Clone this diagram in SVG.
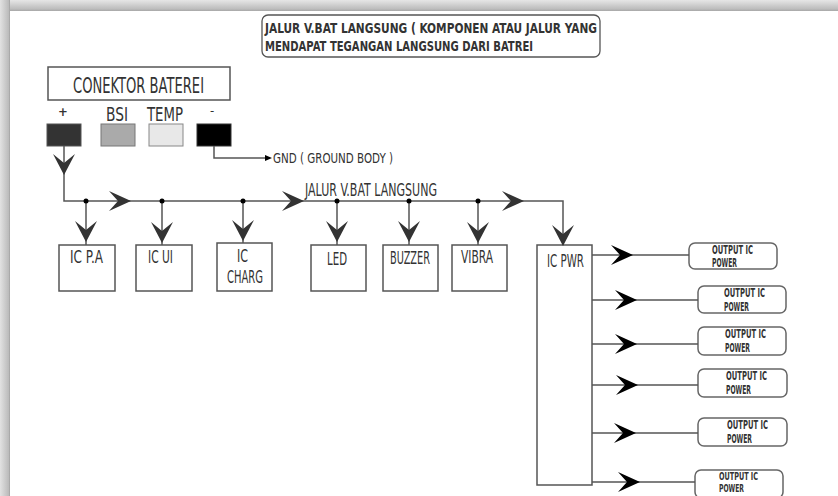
<svg xmlns="http://www.w3.org/2000/svg" width="838" height="496" viewBox="0 0 838 496">
<defs>
<linearGradient id="gTop" x1="0" y1="0" x2="0" y2="1">
<stop offset="0" stop-color="#e6e6e6"/>
<stop offset="0.8" stop-color="#bdbdbd"/>
<stop offset="1" stop-color="#a8a8a8"/>
</linearGradient>
<linearGradient id="gLeft" x1="0" y1="0" x2="1" y2="0">
<stop offset="0" stop-color="#e2e2e2"/>
<stop offset="0.85" stop-color="#bcbcbc"/>
<stop offset="1" stop-color="#a0a0a0"/>
</linearGradient>
<path id="chevR" d="M0,0 L-22,-10 L-13,0 L-22,10 Z"/>
<path id="chevD" d="M0,0 L-11,-21 L0,-12 L11,-21 Z"/>
<path id="smallR" d="M0,0 L-7,-3 L-7,3 Z"/>
</defs>
<style>
.t{font-family:"Liberation Sans Narrow","DejaVu Sans Condensed","Liberation Sans",sans-serif;fill:#333;}
.b{font-weight:bold;}
.box{fill:#fff;stroke:#555;stroke-width:1.5;}
.ob{fill:#fff;stroke:#666;stroke-width:1.5;}
.ln{fill:none;stroke:#555;stroke-width:1.5;}
.ar{fill:#333;}
.ab{fill:#000;}
.dot{fill:#000;}
</style>
<rect x="0" y="0" width="838" height="496" fill="#fff"/>
<rect x="0" y="0" width="838" height="11" fill="url(#gTop)"/>
<rect x="0" y="0" width="10" height="496" fill="url(#gLeft)"/>

<g id="title">
<rect x="262" y="15" width="338" height="42" rx="6" fill="#fff" stroke="#555" stroke-width="1.3"/>
<text class="t b" x="265" y="33" font-size="14" textLength="332" lengthAdjust="spacingAndGlyphs">JALUR V.BAT LANGSUNG ( KOMPONEN ATAU JALUR YANG</text>
<text class="t b" x="265" y="51" font-size="14" textLength="268" lengthAdjust="spacingAndGlyphs">MENDAPAT TEGANGAN LANGSUNG DARI BATREI</text>
</g>

<g id="conektor">
<rect x="48" y="67" width="182" height="33" fill="#fff" stroke="#555" stroke-width="1.5"/>
<text class="t" x="73" y="93" font-size="22" textLength="131" lengthAdjust="spacingAndGlyphs">CONEKTOR BATEREI</text>
</g>

<g id="pin-plus">
<text class="t b" x="63" y="116" font-size="13" text-anchor="middle">+</text>
<rect x="47" y="124" width="34" height="22" fill="#333" stroke="#555" stroke-width="1"/>
</g>
<g id="pin-bsi">
<text class="t" x="106" y="121" font-size="20" textLength="22" lengthAdjust="spacingAndGlyphs">BSI</text>
<rect x="101" y="124" width="34" height="22" fill="#aaa" stroke="#777" stroke-width="1"/>
</g>
<g id="pin-temp">
<text class="t" x="147" y="121" font-size="20" textLength="36" lengthAdjust="spacingAndGlyphs">TEMP</text>
<rect x="149" y="124" width="34" height="22" fill="#e8e8e8" stroke="#888" stroke-width="1"/>
</g>
<g id="pin-minus">
<text class="t" x="212" y="115" font-size="13" fill="#666" text-anchor="middle">-</text>
<rect x="197" y="124" width="34" height="22" fill="#000" stroke="#333" stroke-width="1"/>
</g>
<g id="gnd">
<text class="t" x="273" y="163" font-size="14" textLength="120" lengthAdjust="spacingAndGlyphs">GND ( GROUND BODY )</text>
</g>
<g id="bus-label">
<text class="t" x="305" y="196" font-size="17" textLength="132" lengthAdjust="spacingAndGlyphs">JALUR  V.BAT LANGSUNG</text>
</g>

<g id="ic-pa">
<rect class="box" x="59" y="245" width="56" height="46"/>
<text class="t" x="70" y="263" font-size="18" textLength="33" lengthAdjust="spacingAndGlyphs">IC P.A</text>
</g>
<g id="ic-ui">
<rect class="box" x="136" y="245" width="56" height="46"/>
<text class="t" x="148" y="263" font-size="18" textLength="25" lengthAdjust="spacingAndGlyphs">IC UI</text>
</g>
<g id="ic-charg">
<rect class="box" x="217" y="243" width="55" height="48"/>
<text class="t" x="242.5" y="262" font-size="18" text-anchor="middle" textLength="11" lengthAdjust="spacingAndGlyphs">IC</text>
<text class="t" x="227" y="283" font-size="18" textLength="36" lengthAdjust="spacingAndGlyphs">CHARG</text>
</g>
<g id="led">
<rect class="box" x="311" y="245" width="55" height="46"/>
<text class="t" x="327" y="265" font-size="18" textLength="20" lengthAdjust="spacingAndGlyphs">LED</text>
</g>
<g id="buzzer">
<rect class="box" x="383" y="245" width="55" height="46"/>
<text class="t" x="390" y="264" font-size="18" textLength="40" lengthAdjust="spacingAndGlyphs">BUZZER</text>
</g>
<g id="vibra">
<rect class="box" x="452" y="245" width="55" height="46"/>
<text class="t" x="461" y="263" font-size="18" textLength="32" lengthAdjust="spacingAndGlyphs">VIBRA</text>
</g>
<g id="ic-pwr">
<rect class="box" x="537" y="245" width="55" height="240"/>
<text class="t" x="547" y="267" font-size="18" textLength="37" lengthAdjust="spacingAndGlyphs">IC PWR</text>
</g>

<g id="out1">
<rect class="ob" x="689" y="243" width="88" height="26" rx="6"/>
<text class="t b" x="712" y="254" font-size="11.5" textLength="41" lengthAdjust="spacingAndGlyphs">OUTPUT IC</text>
<text class="t b" x="712" y="267" font-size="11.5" textLength="25" lengthAdjust="spacingAndGlyphs">POWER</text>
</g>
<g id="out2">
<rect class="ob" x="698" y="286" width="88" height="27" rx="6"/>
<text class="t b" x="724" y="297" font-size="11.5" textLength="41" lengthAdjust="spacingAndGlyphs">OUTPUT IC</text>
<text class="t b" x="724" y="311" font-size="11.5" textLength="25" lengthAdjust="spacingAndGlyphs">POWER</text>
</g>
<g id="out3">
<rect class="ob" x="698" y="327" width="88" height="28" rx="6"/>
<text class="t b" x="725" y="338" font-size="11.5" textLength="41" lengthAdjust="spacingAndGlyphs">OUTPUT IC</text>
<text class="t b" x="725" y="352" font-size="11.5" textLength="25" lengthAdjust="spacingAndGlyphs">POWER</text>
</g>
<g id="out4">
<rect class="ob" x="698" y="369" width="89" height="28" rx="6"/>
<text class="t b" x="726" y="380" font-size="11.5" textLength="41" lengthAdjust="spacingAndGlyphs">OUTPUT IC</text>
<text class="t b" x="726" y="394" font-size="11.5" textLength="25" lengthAdjust="spacingAndGlyphs">POWER</text>
</g>
<g id="out5">
<rect class="ob" x="698" y="418" width="89" height="28" rx="6"/>
<text class="t b" x="727" y="429" font-size="11.5" textLength="41" lengthAdjust="spacingAndGlyphs">OUTPUT IC</text>
<text class="t b" x="727" y="443" font-size="11.5" textLength="25" lengthAdjust="spacingAndGlyphs">POWER</text>
</g>
<g id="out6">
<rect class="ob" x="695" y="470" width="88" height="28" rx="6"/>
<text class="t b" x="719" y="480" font-size="11" textLength="39" lengthAdjust="spacingAndGlyphs">OUTPUT IC</text>
<text class="t b" x="719" y="492" font-size="10.5" textLength="25" lengthAdjust="spacingAndGlyphs">POWER</text>
</g>

<g id="connectors">
<polyline class="ln" points="214,146 214,158 265,158"/>
<use href="#smallR" x="272" y="158" class="ab"/>
<polyline class="ln" points="64,146 64,201 563,201 563,245"/>
<use href="#chevD" x="64" y="175" class="ar"/>
<use href="#chevR" x="131" y="201" class="ar"/>
<use href="#chevR" x="304" y="201" class="ar"/>
<use href="#chevR" x="524" y="201" class="ar"/>
<use href="#chevD" x="563" y="246" class="ar"/>
<line class="ln" x1="86" y1="201" x2="86" y2="245"/>
<line class="ln" x1="162" y1="201" x2="162" y2="245"/>
<line class="ln" x1="243" y1="201" x2="243" y2="243"/>
<line class="ln" x1="337" y1="201" x2="337" y2="245"/>
<line class="ln" x1="409" y1="201" x2="409" y2="245"/>
<line class="ln" x1="478" y1="201" x2="478" y2="245"/>
<use href="#chevD" x="86" y="242" class="ar"/>
<use href="#chevD" x="162" y="243" class="ar"/>
<use href="#chevD" x="243" y="241" class="ar"/>
<use href="#chevD" x="337" y="242" class="ar"/>
<use href="#chevD" x="409" y="242" class="ar"/>
<use href="#chevD" x="478" y="243" class="ar"/>
<circle class="dot" cx="86" cy="201" r="2.5"/>
<circle class="dot" cx="162" cy="201" r="2.5"/>
<circle class="dot" cx="243" cy="201" r="2.5"/>
<circle class="dot" cx="337" cy="201" r="2.5"/>
<circle class="dot" cx="409" cy="201" r="2.5"/>
<circle class="dot" cx="478" cy="201" r="2.5"/>
<line class="ln" x1="592" y1="255" x2="689" y2="255"/>
<line class="ln" x1="592" y1="300" x2="698" y2="300"/>
<line class="ln" x1="592" y1="344" x2="698" y2="344"/>
<line class="ln" x1="592" y1="385" x2="698" y2="385"/>
<line class="ln" x1="592" y1="433" x2="698" y2="433"/>
<line class="ln" x1="592" y1="482" x2="695" y2="482"/>
<use href="#chevR" x="633" y="255" class="ab"/>
<use href="#chevR" x="637" y="300" class="ab"/>
<use href="#chevR" x="637" y="344" class="ab"/>
<use href="#chevR" x="638" y="385" class="ab"/>
<use href="#chevR" x="636" y="433" class="ab"/>
<use href="#chevR" x="640" y="482" class="ab"/>
</g>
</svg>
